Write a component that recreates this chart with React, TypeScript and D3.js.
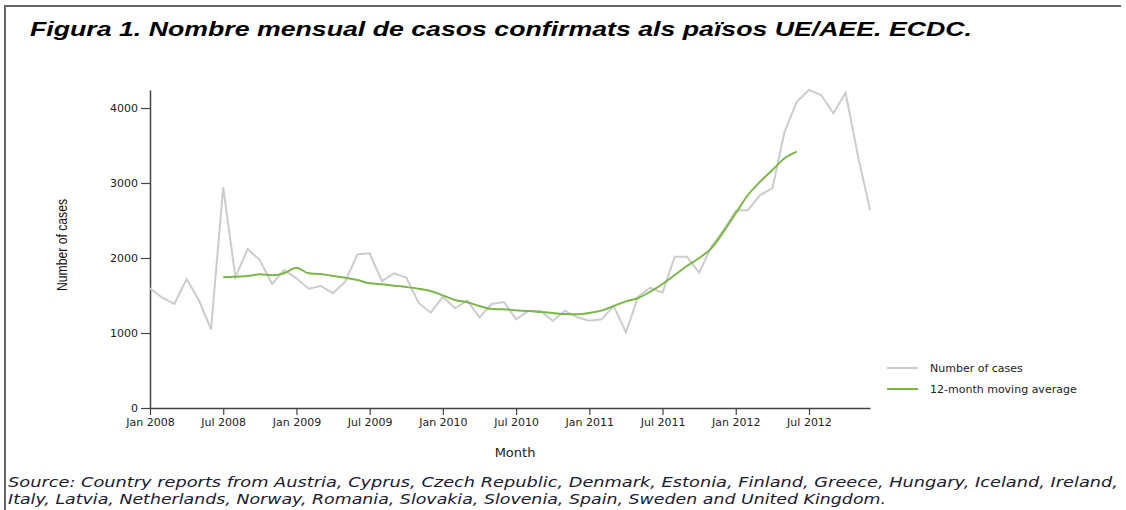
import React, { useEffect, useRef } from 'react';
import * as d3 from 'd3';

// monthly confirmed cases, Jan 2008 - Dec 2012
const months = d3.timeMonth.range(new Date(2008, 0, 1), new Date(2013, 0, 1));
const cases = [
  1596, 1471, 1387, 1720, 1440, 1049, 2942, 1742, 2120, 1973, 1653, 1840,
  1729, 1591, 1627, 1529, 1684, 2049, 2062, 1693, 1796, 1738, 1404, 1271,
  1484, 1329, 1431, 1209, 1387, 1413, 1182, 1293, 1298, 1160, 1298, 1209,
  1164, 1182, 1360, 1009, 1484, 1604, 1538, 2018, 2018, 1804, 2151, 2373,
  2631, 2640, 2840, 2929, 3684, 4084, 4240, 4173, 3929, 4204, 3373, 2640,
];
// 12-month moving average, Jul 2008 - Jun 2012
const avgStart = 6;
const movingAvg = [
  1742, 1751, 1760, 1782, 1769, 1796,
  1871, 1796, 1787, 1760, 1738, 1707, 1662, 1649, 1631, 1613, 1591, 1560,
  1502, 1440, 1409, 1360, 1320, 1316, 1302, 1293, 1280, 1267, 1253, 1249,
  1267, 1298, 1360, 1422, 1467, 1551, 1653, 1773, 1893, 2000, 2129, 2351,
  2596, 2840, 3018, 3173, 3329, 3418,
];
const yTicks = [0, 1000, 2000, 3000, 4000];
const xTickLabels = [
  'Jan 2008', 'Jul 2008', 'Jan 2009', 'Jul 2009', 'Jan 2010',
  'Jul 2010', 'Jan 2011', 'Jul 2011', 'Jan 2012', 'Jul 2012',
];
const legendLabels = ['Number of cases', '12-month moving average'];
const colors = ['#cccccc', '#7ab648'];

const title = 'Figura 1. Nombre mensual de casos confirmats als països UE/AEE. ECDC.';
const sourceLines = [
  'Source: Country reports from Austria, Cyprus, Czech Republic, Denmark, Estonia, Finland, Greece, Hungary, Iceland, Ireland,',
  'Italy, Latvia, Netherlands, Norway, Romania, Slovakia, Slovenia, Spain, Sweden and United Kingdom.',
];

const W = 1126;
const H = 510;
const tickFont = 'DejaVu Sans, Verdana, sans-serif';

const Chart = () => {
  const ref = useRef<SVGSVGElement>(null);

  useEffect(() => {
    const svg = d3.select(ref.current);
    svg.selectAll('*').remove();

    const x = d3.scaleLinear().domain([0, months.length - 1]).range([150, 870]);
    const y = d3.scaleLinear().domain([0, 4240]).range([408, 90]);

    // frame
    svg.append('path')
      .attr('d', 'M5,510 V6 H1121')
      .attr('fill', 'none')
      .attr('stroke', '#666')
      .attr('stroke-width', 2);

    svg.append('text')
      .attr('x', 30).attr('y', 36)
      .attr('font-family', 'Liberation Sans, Arial, sans-serif')
      .attr('font-weight', 'bold')
      .attr('font-style', 'italic')
      .attr('font-size', 20)
      .attr('textLength', 942)
      .attr('lengthAdjust', 'spacingAndGlyphs')
      .text(title);

    // axes
    const xAxis = d3.axisBottom(x)
      .tickValues(xTickLabels.map((_, i) => i * 6))
      .tickFormat((_, i) => xTickLabels[i])
      .tickSize(7).tickSizeOuter(0);
    const gx = svg.append('g').attr('transform', 'translate(0,408)').call(xAxis);

    const yAxis = d3.axisLeft(y).tickValues(yTicks).tickFormat(d3.format('d')).tickSize(9).tickSizeOuter(0);
    const gy = svg.append('g').attr('transform', 'translate(150,0)').call(yAxis);

    [gx, gy].forEach((g) => {
      g.select('.domain').attr('stroke', '#444').attr('stroke-width', 1.5);
      g.selectAll('.tick line').attr('stroke', '#444').attr('stroke-width', 1.2);
      g.selectAll('.tick text')
        .attr('font-family', tickFont)
        .attr('font-size', 11)
        .attr('fill', '#222');
    });

    // lines
    const caseLine = d3.line<number>()
      .x((_, i) => x(i))
      .y((d) => y(d));
    svg.append('path')
      .datum(cases)
      .attr('d', caseLine)
      .attr('fill', 'none')
      .attr('stroke', colors[0])
      .attr('stroke-width', 2);

    const avgLine = d3.line<number>()
      .x((_, i) => x(i + avgStart))
      .y((d) => y(d))
      .curve(d3.curveMonotoneX);
    svg.append('path')
      .datum(movingAvg)
      .attr('d', avgLine)
      .attr('fill', 'none')
      .attr('stroke', colors[1])
      .attr('stroke-width', 2);

    // axis titles
    svg.append('text')
      .attr('transform', 'translate(67,245) rotate(-90)')
      .attr('text-anchor', 'middle')
      .attr('font-family', 'Liberation Sans Narrow, Liberation Sans, Arial, sans-serif')
      .attr('font-size', 15)
      .attr('textLength', 92)
      .attr('lengthAdjust', 'spacingAndGlyphs')
      .attr('fill', '#111')
      .text('Number of cases');

    svg.append('text')
      .attr('x', 515).attr('y', 457)
      .attr('text-anchor', 'middle')
      .attr('font-family', tickFont)
      .attr('font-size', 13)
      .attr('fill', '#222')
      .text('Month');

    // legend
    const legend = svg.append('g').attr('transform', 'translate(887,368)');
    legendLabels.forEach((label, i) => {
      legend.append('line')
        .attr('x1', 0).attr('x2', 31)
        .attr('y1', i * 21).attr('y2', i * 21)
        .attr('stroke', colors[i])
        .attr('stroke-width', 2);
      legend.append('text')
        .attr('x', 43).attr('y', i * 21 + 4)
        .attr('font-family', tickFont)
        .attr('font-size', 11)
        .attr('fill', '#222')
        .text(label);
    });

    // source note
    sourceLines.forEach((line, i) => {
      svg.append('text')
        .attr('x', 8).attr('y', 487 + i * 17)
        .attr('font-family', tickFont)
        .attr('font-style', 'italic')
        .attr('font-size', 14)
        .attr('textLength', i === 0 ? 1110 : 878)
        .attr('lengthAdjust', 'spacingAndGlyphs')
        .attr('fill', '#1a1a33')
        .text(line);
    });
  }, []);

  return <svg ref={ref} width={W} height={H} style={{ display: 'block', background: '#fff' }} />;
};

export default function App() {
  return (
    <div style={{ position: 'absolute', left: 0, top: 0 }}>
      <Chart />
    </div>
  );
}
